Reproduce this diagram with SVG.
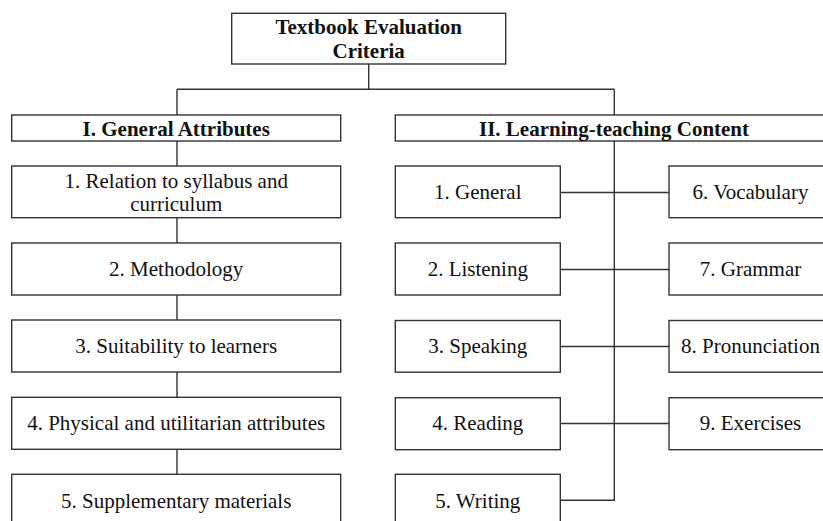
<svg xmlns="http://www.w3.org/2000/svg" width="823" height="521" viewBox="0 0 823 521">
<style>
.b{fill:#fff;stroke:#333;stroke-width:1.4}
.c{fill:none;stroke:#333;stroke-width:1.4}
text{font-family:'Liberation Serif','Tinos','Times New Roman','DejaVu Serif',serif;font-size:21px;fill:#111;text-anchor:middle}
.h{font-weight:bold}
</style>
<rect width="823" height="521" fill="#fff"/>
<g id="connectors">
<path class="c" d="M368.7 64V89.3M177 89.3H614.3M177 89.3V474M614.3 89.3V500.3H560.3"/>
<path class="c" d="M560.3 192.5H669M560.3 269.5H669M560.3 346.5H669M560.3 423.5H669"/>
</g>
<g id="root"><rect class="b" x="231.7" y="13.3" width="274" height="50.7"/><text class="h" x="368.7" y="34">Textbook Evaluation</text><text class="h" x="368.7" y="58.3">Criteria</text></g>
<g id="general"><rect class="b" x="11.7" y="115" width="329" height="26"/><text class="h" x="176.2" y="136">I. General Attributes</text></g>
<g id="content"><rect class="b" x="395.3" y="115" width="437.4" height="26"/><text class="h" x="614" y="136">II. Learning-teaching Content</text></g>
<g id="g1"><rect class="b" x="11.7" y="166" width="329" height="51.7"/><text x="176.2" y="188.3">1. Relation to syllabus and</text><text x="176.2" y="210.5">curriculum</text></g>
<g id="g2"><rect class="b" x="11.7" y="243" width="329" height="52"/><text x="176.2" y="276">2. Methodology</text></g>
<g id="g3"><rect class="b" x="11.7" y="320" width="329" height="52"/><text x="176.2" y="353">3. Suitability to learners</text></g>
<g id="g4"><rect class="b" x="11.7" y="397.3" width="329" height="52"/><text x="176.2" y="430">4. Physical and utilitarian attributes</text></g>
<g id="g5"><rect class="b" x="11.7" y="474.3" width="329" height="60"/><text x="176.2" y="508">5. Supplementary materials</text></g>
<g id="c1"><rect class="b" x="395.3" y="166" width="165" height="51.7"/><text x="477.8" y="199.3">1. General</text></g>
<g id="c2"><rect class="b" x="395.3" y="243" width="165" height="52"/><text x="477.8" y="276">2. Listening</text></g>
<g id="c3"><rect class="b" x="395.3" y="320.5" width="165" height="51.7"/><text x="477.8" y="353.3">3. Speaking</text></g>
<g id="c4"><rect class="b" x="395.3" y="397.7" width="165" height="52"/><text x="477.8" y="430.3">4. Reading</text></g>
<g id="c5"><rect class="b" x="395.3" y="474.3" width="165" height="60"/><text x="477.8" y="507.5">5. Writing</text></g>
<g id="c6"><rect class="b" x="669" y="166" width="163" height="51.7"/><text x="750.5" y="199.3">6. Vocabulary</text></g>
<g id="c7"><rect class="b" x="669" y="243" width="163" height="52"/><text x="750.5" y="276">7. Grammar</text></g>
<g id="c8"><rect class="b" x="669" y="320.5" width="163" height="51.7"/><text x="750.5" y="353.3">8. Pronunciation</text></g>
<g id="c9"><rect class="b" x="669" y="397.7" width="163" height="52"/><text x="750.5" y="430.3">9. Exercises</text></g>
</svg>
